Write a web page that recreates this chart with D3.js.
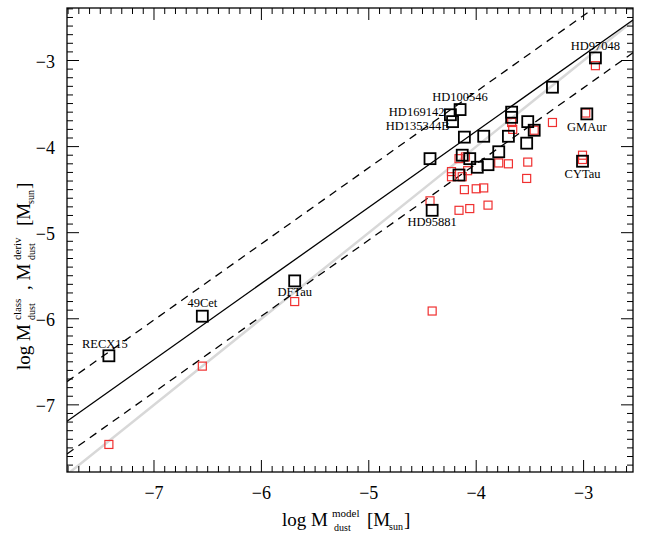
<!DOCTYPE html><html><head><meta charset="utf-8">
<script src="https://cdn.jsdelivr.net/npm/d3@7"></script>
<style>body{margin:0;background:#fff}text{font-family:"Liberation Serif",serif}</style></head><body>
<svg id="c" width="654" height="545"></svg>
<script>
const blackX=[-7.42,-6.55,-5.69,-4.41,-2.89,-4.15,-4.24,-4.22,-3.29,-2.97,-3.67,-3.67,-3.52,-3.46,-3.70,-3.93,-4.11,-3.53,-3.79,-4.43,-4.13,-4.06,-3.99,-3.89,-4.16,-3.01];
const blackY=[-6.43,-5.97,-5.56,-4.74,-2.97,-3.57,-3.63,-3.71,-3.31,-3.62,-3.60,-3.66,-3.71,-3.81,-3.88,-3.88,-3.89,-3.96,-4.06,-4.14,-4.10,-4.14,-4.24,-4.21,-4.33,-4.17];
const redX=[-2.89,-2.98,-3.29,-3.67,-3.66,-3.46,-3.01,-3.01,-4.16,-4.10,-3.79,-3.70,-3.52,-4.23,-4.23,-4.13,-4.08,-4.11,-4.00,-3.93,-3.53,-4.43,-4.16,-4.06,-3.89,-4.41,-5.69,-6.55,-7.42];
const redY=[-3.06,-3.61,-3.72,-3.72,-3.80,-3.81,-4.10,-4.15,-4.14,-4.12,-4.19,-4.20,-4.18,-4.29,-4.35,-4.35,-4.28,-4.50,-4.49,-4.48,-4.37,-4.63,-4.74,-4.72,-4.68,-5.91,-5.80,-6.55,-7.46];
const names=["RECX15","49Cet","DFTau","HD95881","HD97048","HD100546","HD169142","HD135344B","GMAur","CYTau"];
const nameIdx=[0,1,2,3,4,5,6,7,9,25];
const xTicks=[-7,-6,-5,-4,-3], yTicks=[-7,-6,-5,-4,-3];
const fitLine=[[-7.81,-7.19],[-2.54,-2.53]], dashOff=[0.46,-0.38];
const labelPos=[[-4,-8,"middle"],[0,-9,"middle"],[0,15,"middle"],[0,16,"middle"],[0,-8,"middle"],[0,-9,"middle"],[-6,1,"end"],[-3,8,"end"],[0,17,"middle"],[0,17,"middle"]];

const svg=d3.select("#c");
const L=67,R=633,T=8,B=472;
const x=d3.scaleLinear().domain([-7.81,-2.54]).range([L,R]);
const y=d3.scaleLinear().domain([-7.78,-2.39]).range([B,T]);
const g=svg.append("g");
g.append("defs").append("clipPath").attr("id","cp").append("rect").attr("x",L).attr("y",T).attr("width",R-L).attr("height",B-T);
const pl=g.append("g").attr("clip-path","url(#cp)");
pl.append("line").attr("x1",x(-7.9)).attr("y1",y(-7.9)).attr("x2",x(-2.3)).attr("y2",y(-2.3)).attr("stroke","#d8d8d8").attr("stroke-width",2.5);
pl.append("line").attr("x1",x(fitLine[0][0])).attr("y1",y(fitLine[0][1])).attr("x2",x(fitLine[1][0])).attr("y2",y(fitLine[1][1])).attr("stroke","#000").attr("stroke-width",1.3);
dashOff.forEach(o=>pl.append("line").attr("x1",x(fitLine[0][0])).attr("y1",y(fitLine[0][1]+o)).attr("x2",x(fitLine[1][0])).attr("y2",y(fitLine[1][1]+o)).attr("stroke","#000").attr("stroke-width",1.3).attr("stroke-dasharray","8,6"));
const rs=8;
redX.forEach((v,i)=>pl.append("rect").attr("x",x(v)-rs/2).attr("y",y(redY[i])-rs/2).attr("width",rs).attr("height",rs).attr("fill","none").attr("stroke","#f03030").attr("stroke-width",1.2));
const bs=11;
blackX.forEach((v,i)=>pl.append("rect").attr("x",x(v)-bs/2).attr("y",y(blackY[i])-bs/2).attr("width",bs).attr("height",bs).attr("fill","none").attr("stroke","#000").attr("stroke-width",1.8));
names.forEach((n,k)=>{const i=nameIdx[k],p=labelPos[k];
 g.append("text").attr("x",x(blackX[i])+p[0]).attr("y",y(blackY[i])+p[1]).attr("text-anchor",p[2]).attr("font-size",12.5).text(n);});
g.append("rect").attr("x",L).attr("y",T).attr("width",R-L).attr("height",B-T).attr("fill","none").attr("stroke","#000").attr("stroke-width",1.3);
const minors=d3.range(-78,-23).map(d=>d/10);
minors.forEach(v=>{const maj=Math.abs(v-Math.round(v))<1e-6, len=maj?12:6;
 [[B,-1],[T,1]].forEach(([yy,s])=>{ if(x(v)>L&&x(v)<R) g.append("line").attr("x1",x(v)).attr("x2",x(v)).attr("y1",yy).attr("y2",yy+s*len).attr("stroke","#000");});
 [[L,1],[R,-1]].forEach(([xx,s])=>{ if(y(v)>T&&y(v)<B) g.append("line").attr("y1",y(v)).attr("y2",y(v)).attr("x1",xx).attr("x2",xx+s*len).attr("stroke","#000");});
});
xTicks.forEach(v=>g.append("text").attr("x",x(v)).attr("y",B+27).attr("text-anchor","middle").attr("font-size",18).text("\u2212"+Math.abs(v)));
yTicks.forEach(v=>g.append("text").attr("x",L-12).attr("y",y(v)+7).attr("text-anchor","end").attr("font-size",18).text("\u2212"+Math.abs(v)));
// x label
const xl=g.append("g").attr("font-size",19);
xl.append("text").attr("x",282).attr("y",526).attr("font-size",19).text("log M");
xl.append("text").attr("x",332).attr("y",517).attr("font-size",11).text("model");
xl.append("text").attr("x",334).attr("y",531).attr("font-size",10).text("dust");
xl.append("text").attr("x",367).attr("y",526).attr("font-size",19).text("[M");
xl.append("text").attr("x",389).attr("y",530).attr("font-size",10).text("sun");
xl.append("text").attr("x",404).attr("y",526).attr("font-size",19).text("]");
// y label
const yl=g.append("g").attr("transform","translate(30,240) rotate(-90)");
const ys=[["log M",-130,0,19],["class",-80,-9,11],["dust",-80,5,10],[", M",-50,0,19],["deriv",-20,-9,11],["dust",-20,5,10],["[M",14,0,19],["sun",36,4,10],["]",51,0,19]];
ys.forEach(d=>yl.append("text").attr("x",d[1]).attr("y",d[2]).attr("font-size",d[3]).text(d[0]));
</script></body></html>
